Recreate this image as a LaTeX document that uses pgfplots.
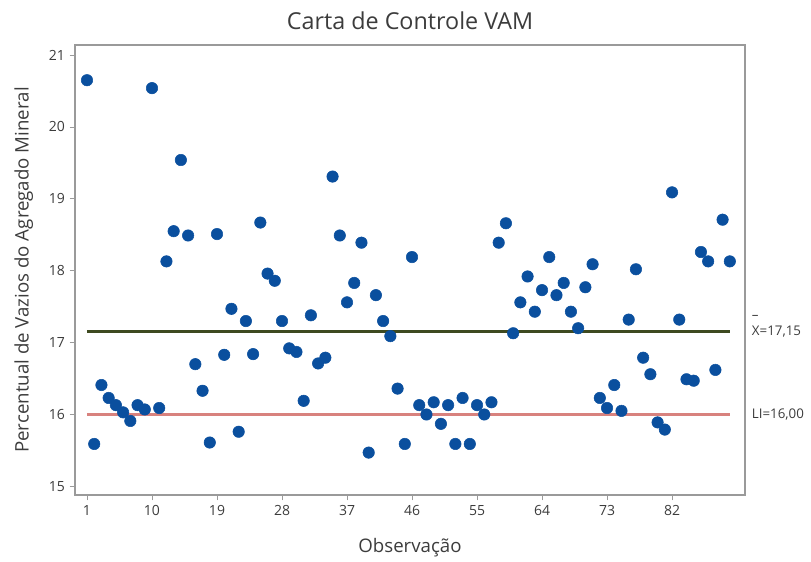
\documentclass[border=0pt]{standalone}
\usepackage{fontspec}
\setmainfont{Open Sans}
\usepackage{pgfplots}
\pgfplotsset{compat=1.18}

\definecolor{ptblue}{HTML}{0A4F9E}
\definecolor{meanline}{HTML}{3E4A20}
\definecolor{limline}{HTML}{D8827E}
\definecolor{framegray}{HTML}{9A9A9A}
\definecolor{txtgray}{HTML}{3C3C3C}

\begin{document}
\begin{tikzpicture}[x=0.75pt,y=0.75pt]
\begin{axis}[
    scale only axis,
    width=502.5pt, height=337.5pt,
    xmin=-0.66, xmax=92.1,
    ymin=14.88, ymax=21.14,
    xtick={1,10,...,82},
    ytick={15,16,...,21},
    tick align=outside,
    tick pos=left,
    major tick length=4pt,
    axis line style={framegray, line width=1.1pt},
    every tick/.style={framegray, line width=0.6pt},
    tick label style={font=\fontsize{10.5}{12}\selectfont, color=txtgray},
    /pgf/number format/assume math mode=true,
    xlabel={Observação},
    ylabel={Percentual de Vazios do Agregado Mineral},
    label style={font=\fontsize{14}{16}\selectfont, color=txtgray},
    xlabel style={yshift=-10pt},
    ylabel style={yshift=5pt},
    title={Carta de Controle VAM},
    title style={font=\fontsize{17.5}{20}\selectfont, color=txtgray, yshift=2pt},
    clip=false,
]
\addplot[meanline, line width=2.2pt] coordinates {(1,17.15) (90,17.15)};
\addplot[limline, line width=1.7pt] coordinates {(1,16.00) (90,16.00)};
\addplot[only marks, mark=*, mark size=4.3pt, ptblue, mark options={draw=ptblue, fill=ptblue}]
coordinates {
(1,20.65) (2,15.59) (3,16.41) (4,16.23) (5,16.13) (6,16.03) (7,15.91) (8,16.13) (9,16.07) (10,20.54)
(11,16.09) (12,18.13) (13,18.55) (14,19.54) (15,18.49) (16,16.70) (17,16.33) (18,15.61) (19,18.51) (20,16.83)
(21,17.47) (22,15.76) (23,17.30) (24,16.84) (25,18.67) (26,17.96) (27,17.86) (28,17.30) (29,16.92) (30,16.87)
(31,16.19) (32,17.38) (33,16.71) (34,16.79) (35,19.31) (36,18.49) (37,17.56) (38,17.83) (39,18.39) (40,15.47)
(41,17.66) (42,17.30) (43,17.09) (44,16.36) (45,15.59) (46,18.19) (47,16.13) (48,16.00) (49,16.17) (50,15.87)
(51,16.13) (52,15.59) (53,16.23) (54,15.59) (55,16.13) (56,16.00) (57,16.17) (58,18.39) (59,18.66) (60,17.13)
(61,17.56) (62,17.92) (63,17.43) (64,17.73) (65,18.19) (66,17.66) (67,17.83) (68,17.43) (69,17.20) (70,17.77)
(71,18.09) (72,16.23) (73,16.09) (74,16.41) (75,16.05) (76,17.32) (77,18.02) (78,16.79) (79,16.56) (80,15.89)
(81,15.79) (82,19.09) (83,17.32) (84,16.49) (85,16.47) (86,18.26) (87,18.13) (88,16.62) (89,18.71) (90,18.13)
};
\node[anchor=west, font=\fontsize{10}{12}\selectfont, color=txtgray, inner sep=0pt, xshift=5pt] at (axis cs:92.1,17.15) {X=17,15};
\node[anchor=south west, font=\fontsize{10}{12}\selectfont, color=txtgray, inner sep=0pt, xshift=5pt, yshift=9pt] at (axis cs:92.1,17.15) {–};
\node[anchor=west, font=\fontsize{10}{12}\selectfont, color=txtgray, inner sep=0pt, xshift=5pt] at (axis cs:92.1,16.00) {LI=16,00};
\end{axis}
\pgfresetboundingbox
\path[use as bounding box] (-75,-66) rectangle (736,495);
\end{tikzpicture}
\end{document}
